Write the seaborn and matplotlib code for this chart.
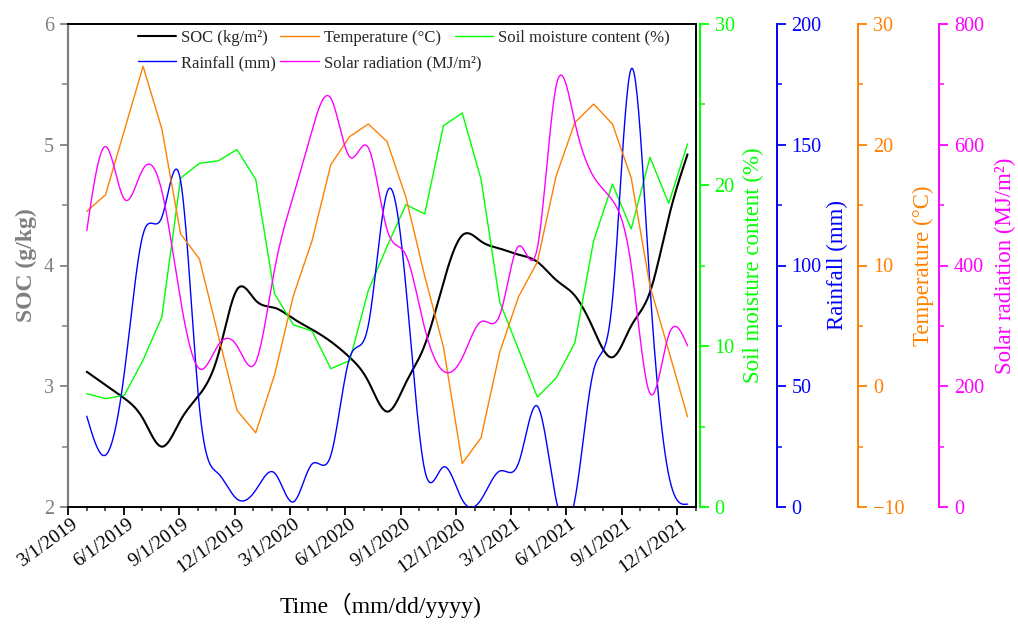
import numpy as np
import pandas as pd
import matplotlib
matplotlib.use("Agg")
import matplotlib.pyplot as plt
import matplotlib.dates as mdates
import matplotlib.transforms as mtransforms
from matplotlib.ticker import MultipleLocator, FuncFormatter
from matplotlib.lines import Line2D
import seaborn as sns

# ---------------- data ----------------
DATES = pd.date_range("2019-04-01", periods=33, freq="31D")
SOC = [3.12, 3.01, 2.90, 2.73, 2.50, 2.72, 2.93, 3.26, 3.80, 3.71, 3.65, 3.56,
       3.47, 3.37, 3.24, 3.04, 2.79, 3.03, 3.34, 3.86, 4.25, 4.20, 4.14, 4.09,
       4.03, 3.88, 3.75, 3.47, 3.24, 3.50, 3.78, 4.40, 4.92]
RAINFALL = [37.6, 21.5, 55.5, 113, 120, 135, 41.4, 13.9, 3.3, 7.0, 14.1, 2.1,
            17.8, 21.4, 61.7, 75.4, 130.4, 91.1, 15.3, 16.6, 3.0, 3.0, 14.9, 18.2,
            41.8, 3.0, 3.0, 56.7, 85.7, 181.4, 91.5, 13.2, 1.2]
TEMPERATURE = [14.49, 15.86, 21.18, 26.50, 21.30, 12.61, 10.54, 4.24, -1.99, -3.85,
               0.93, 7.47, 12.05, 18.35, 20.67, 21.72, 20.25, 15.65, 9.13, 3.25,
               -6.40, -4.27, 2.84, 7.42, 10.29, 17.41, 21.84, 23.37, 21.72, 17.25,
               8.30, 2.92, -2.52]
SOIL_MOISTURE = [7.04, 6.73, 6.94, 9.13, 11.8, 20.43, 21.35, 21.5, 22.2, 20.35,
                 13.25, 11.32, 10.93, 8.59, 9.09, 13.46, 16.2, 18.78, 18.2, 23.68,
                 24.47, 20.37, 12.73, 9.78, 6.83, 8.01, 10.2, 16.54, 20.06, 17.27,
                 21.72, 18.86, 22.55]
SOLAR = [458, 597, 510, 560, 523, 342, 229, 268, 267, 240, 393, 515, 624, 677,
         580, 595, 459, 417, 296, 225, 247, 307, 318, 432, 429, 697, 637, 547,
         508, 400, 188, 285, 267]

LABELS = ["SOC (kg/m²)", "Rainfall (mm)", "Temperature (°C)",
          "Solar radiation (MJ/m²)", "Soil moisture content (%)"]

# ---------------- style ----------------
sns.set_style("ticks")
plt.rcParams["font.family"] = ["Liberation Serif", "Noto Sans CJK SC"]
plt.rcParams["axes.unicode_minus"] = True

GRAY = "#808080"
C_SOC, C_RAIN, C_TEMP, C_SOLAR, C_SM = "black", "#0000FF", "#FF8000", "#FF00FF", "#00FF00"


def smooth(dates, values, n=800):
    """Natural cubic spline rendering of a series (line style 'spline')."""
    x = np.asarray((dates - pd.Timestamp("1970-01-01")) / pd.Timedelta(days=1), float)
    y = np.asarray(values, float)
    m = len(x)
    h = np.diff(x)
    A = np.zeros((m, m))
    b = np.zeros(m)
    A[0, 0] = A[-1, -1] = 1
    for i in range(1, m - 1):
        A[i, i - 1] = h[i - 1]
        A[i, i] = 2 * (h[i - 1] + h[i])
        A[i, i + 1] = h[i]
        b[i] = 6 * ((y[i + 1] - y[i]) / h[i] - (y[i] - y[i - 1]) / h[i - 1])
    M = np.linalg.solve(A, b)
    xs = np.linspace(x[0], x[-1], n)
    i = np.clip(np.searchsorted(x, xs) - 1, 0, m - 2)
    hi = h[i]
    a = x[i + 1] - xs
    c = xs - x[i]
    ys = (M[i] * a ** 3 / (6 * hi) + M[i + 1] * c ** 3 / (6 * hi)
          + (y[i] / hi - M[i] * hi / 6) * a + (y[i + 1] / hi - M[i + 1] * hi / 6) * c)
    return pd.to_datetime(xs, unit="D"), ys


fig = plt.figure(figsize=(10.18, 6.24), dpi=100)
ax = fig.add_axes([68 / 1018, 117 / 624, 628 / 1018, 483 / 624])

# twin axes
ax_sm = ax.twinx()
ax_rain = ax.twinx()
ax_temp = ax.twinx()
ax_solar = ax.twinx()

# ---------------- lines ----------------
xs, ys = smooth(DATES, RAINFALL)
sns.lineplot(x=xs, y=ys, ax=ax_rain, color=C_RAIN, lw=1.0, estimator=None)
xs, ys = smooth(DATES, SOLAR)
sns.lineplot(x=xs, y=ys, ax=ax_solar, color=C_SOLAR, lw=1.0, estimator=None)
sns.lineplot(x=DATES, y=TEMPERATURE, ax=ax_temp, color=C_TEMP, lw=1.0, estimator=None)
sns.lineplot(x=DATES, y=SOIL_MOISTURE, ax=ax_sm, color=C_SM, lw=1.0, estimator=None)
xs, ys = smooth(DATES, SOC)
sns.lineplot(x=xs, y=ys, ax=ax, color=C_SOC, lw=1.5, estimator=None, zorder=5)

# ---------------- host axis ----------------
ax.set_xlim(pd.Timestamp("2019-03-01"), pd.Timestamp("2022-01-01"))
ax.set_ylim(2, 6)
ax.yaxis.set_major_locator(MultipleLocator(1))
ax.yaxis.set_minor_locator(MultipleLocator(0.5))
ax.xaxis.set_major_locator(mdates.MonthLocator(bymonth=[3, 6, 9, 12], bymonthday=1))
ax.xaxis.set_minor_locator(mdates.MonthLocator(bymonthday=1))
ax.xaxis.set_major_formatter(FuncFormatter(
    lambda v, p: (lambda d: f"{d.month}/{d.day}/{d.year}")(mdates.num2date(v))))
for sp in ["top", "bottom", "right"]:
    ax.spines[sp].set_color("black")
    ax.spines[sp].set_linewidth(1.4)
ax.spines["left"].set_color(GRAY)
ax.spines["left"].set_linewidth(1.6)
ax.tick_params(axis="x", which="major", direction="out", length=6, width=1.3,
               colors="black", labelsize=14, pad=5, top=False)
ax.tick_params(axis="x", which="minor", direction="out", length=3, width=1.1, top=False)
ax.tick_params(axis="y", which="major", direction="out", length=6, width=1.3,
               colors=GRAY, labelsize=14.5, pad=4, right=False)
ax.tick_params(axis="y", which="minor", direction="out", length=4.5, width=1.1,
               colors=GRAY, right=False)
shift = mtransforms.ScaledTranslation(8 / 100, 0, fig.dpi_scale_trans)
for lab in ax.get_xticklabels():
    lab.set_rotation(36)
    lab.set_ha("right")
    lab.set_va("center")
    lab.set_rotation_mode("anchor")
    lab.set_transform(lab.get_transform() + shift)
ax.set_ylabel("SOC (g/kg)", fontsize=17, fontweight="bold", color=GRAY, labelpad=5)
ax.set_xlabel("Time（mm/dd/yyyy)", fontsize=17, color="black")
ax.xaxis.set_label_coords(0.498, -0.178)
ax.grid(False)

# ---------------- twin axes ----------------
specs = [
    (ax_sm, C_SM, 2.9, (0, 30), 10, 5, "Soil moisture content (%)", 6),
    (ax_rain, C_RAIN, 58.1, (0, 200), 50, 25, "Rainfall (mm)", 4),
    (ax_temp, C_TEMP, 116.9, (-10, 30), 10, 5, "Temperature (°C)", 6),
    (ax_solar, C_SOLAR, 175.2, (0, 800), 200, 100, "Solar radiation (MJ/m²)", 8),
]
for a, col, off, lim, maj, mnr, lab, lp in specs:
    for sp in ["left", "top", "bottom"]:
        a.spines[sp].set_visible(False)
    a.spines["right"].set_position(("outward", off))
    a.spines["right"].set_color(col)
    a.spines["right"].set_linewidth(1.4)
    a.set_ylim(*lim)
    a.yaxis.set_major_locator(MultipleLocator(maj))
    a.yaxis.set_minor_locator(MultipleLocator(mnr))
    a.tick_params(axis="y", which="major", direction="out", length=6.5, width=1.3,
                  colors=col, labelsize=14.5, pad=4)
    a.tick_params(axis="y", which="minor", direction="out", length=3.5, width=1.1,
                  colors=col)
    a.set_ylabel(lab, fontsize=16.5, color=col, labelpad=lp)
    a.set_xlim(ax.get_xlim())
    a.grid(False)
    a.set_xlabel("")

# ---------------- legend ----------------
cols = [C_SOC, C_RAIN, C_TEMP, C_SOLAR]
handles = [Line2D([], [], color=c, lw=1.5 if c == C_SOC else 1.0) for c in cols]
leg1 = ax.legend(handles, LABELS[:4], ncol=2, loc="upper left",
                 bbox_to_anchor=(0.1115, 0.988), frameon=False, fontsize=12,
                 handlelength=2.3, handletextpad=0.3, columnspacing=0.25,
                 labelspacing=0.55, borderpad=0, borderaxespad=0)
ax.add_artist(leg1)
leg2 = ax.legend([Line2D([], [], color=C_SM, lw=1.0)], [LABELS[4]], loc="upper left",
                 bbox_to_anchor=(0.616, 0.988), frameon=False, fontsize=12,
                 handlelength=2.3, handletextpad=0.3, borderpad=0, borderaxespad=0)
leg1.set_zorder(10)
leg2.set_zorder(10)

fig.savefig("out.png", dpi=100)
